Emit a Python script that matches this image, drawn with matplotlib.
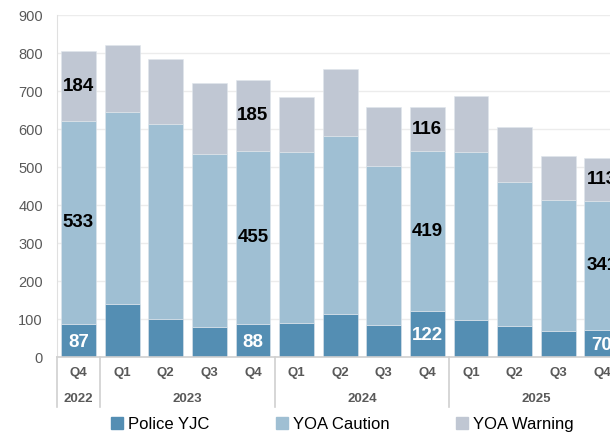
import matplotlib.pyplot as plt
from matplotlib.patches import Patch
from matplotlib.lines import Line2D

plt.rcParams['font.family'] = ['Liberation Sans', 'DejaVu Sans']

quarters = ['Q4', 'Q1', 'Q2', 'Q3', 'Q4', 'Q1', 'Q2', 'Q3', 'Q4', 'Q1', 'Q2', 'Q3', 'Q4']
years = ['2022', '2023', '2024', '2025']
year_sizes = [1, 4, 4, 4]
police = [87, 139, 99, 78, 88, 89, 112, 83, 122, 97, 81, 68, 70]
caution = [533, 505, 513, 455, 455, 450, 470, 420, 419, 442, 380, 345, 341]
warning = [184, 176, 173, 187, 185, 145, 177, 154, 116, 147, 143, 115, 113]
labelled = [0, 4, 8, 12]

c_pol = '#548eb3'
c_cau = '#9fbfd3'
c_war = '#c0c7d3'
grey = '#595959'

fig = plt.figure(figsize=(6.1, 4.36), dpi=100)
# axes runs past the right edge, like the cropped original
ax = fig.add_axes([56.7 / 610, 79 / 436, 567 / 610, 342 / 436])

x = list(range(len(quarters)))
bot2 = [p + c for p, c in zip(police, caution)]
ax.bar(x, police, 0.8, color=c_pol, edgecolor='#dfe6ec', linewidth=0.4, zorder=2)
ax.bar(x, caution, 0.8, bottom=police, color=c_cau, edgecolor='#dfe6ec', linewidth=0.4, zorder=2)
ax.bar(x, warning, 0.8, bottom=bot2, color=c_war, edgecolor='#dfe6ec', linewidth=0.4, zorder=2)

for i in labelled:
    ax.text(i, police[i] / 2 - 5, str(police[i]), ha='center', va='center',
            color='white', fontsize=13.5, fontweight='bold', zorder=3)
    ax.text(i, police[i] + caution[i] / 2, str(caution[i]), ha='center', va='center',
            color='black', fontsize=13.5, fontweight='bold', zorder=3)
    ax.text(i, bot2[i] + warning[i] / 2, str(warning[i]), ha='center', va='center',
            color='black', fontsize=13.5, fontweight='bold', zorder=3)

ax.set_xlim(-0.5, len(quarters) - 0.5)
ax.set_ylim(0, 900)
ax.set_yticks(range(0, 901, 100))
ax.tick_params(axis='y', length=0, labelsize=10.5, labelcolor=grey, pad=10)
ax.set_xticks([])
ax.grid(axis='y', color='#ececec', linewidth=1, zorder=0)
for s in ['top', 'right']:
    ax.spines[s].set_visible(False)
ax.spines['left'].set_color('#e0e0e0')
ax.spines['bottom'].set_color('#d0d0d0')
ax.spines['bottom'].set_linewidth(1.2)

# two-level category axis
tr = ax.get_xaxis_transform()
for i, q in enumerate(quarters):
    ax.text(i, -0.048, q, transform=tr, ha='center', va='center',
            fontsize=9.5, fontweight='bold', color=grey)
start = 0
edges = [-0.5]
for y, n in zip(years, year_sizes):
    ax.text(start + (n - 1) / 2, -0.122, y, transform=tr, ha='center', va='center',
            fontsize=9.5, fontweight='bold', color=grey)
    start += n
    edges.append(start - 0.5)
for e in edges:
    ax.add_line(Line2D([e, e], [0, -0.146], transform=tr, color='#d0d0d0',
                       linewidth=1.2, clip_on=False))

handles = [Patch(color=c_pol), Patch(color=c_cau), Patch(color=c_war)]
fig.legend(handles, ['Police YJC', 'YOA Caution', 'YOA Warning'], loc='center',
           bbox_to_anchor=(0.561, 0.027), ncol=3, frameon=False, fontsize=12,
           handlelength=0.7, handleheight=0.7, handletextpad=0.3, columnspacing=4.0)

fig.savefig('out.png', dpi=100)
